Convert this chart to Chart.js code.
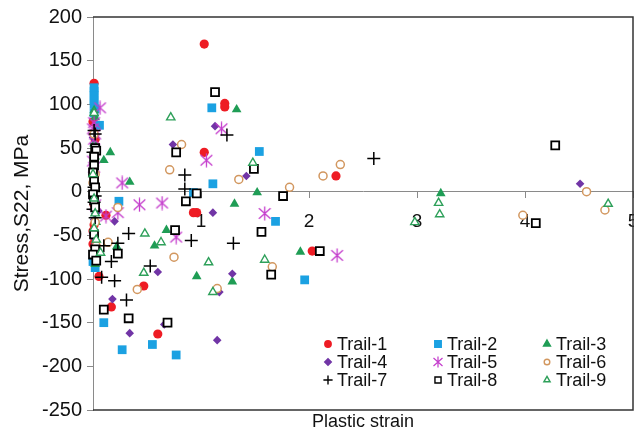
<!DOCTYPE html>
<html>
<head>
<meta charset="utf-8">
<script src="https://cdn.jsdelivr.net/npm/chart.js@4/dist/chart.umd.min.js"></script>
<style>
  html, body { margin: 0; padding: 0; background: #fff; }
  #contenedor { width: 634px; height: 432px; position: relative; }
</style>
</head>
<body>
<div id="contenedor"><canvas id="graficoTensiones"></canvas></div>
<script>
// Datos de cada ensayo: pares [deformación plástica, tensión S22 en MPa]
const trail1 = [[1.03, 169], [1.22, 101], [1.22, 97], [1.03, 45], [2.25, 18], [2.03, -68], [0.96, -24], [0.93, -24],
  [0.47, -108], [0.60, -163], [0.17, -132], [0.055, -97], [0.12, -27],
  [0.01, 124], [0.0, 80], [0.02, 60], [0.01, -15], [0.01, -38], [0.0, -45], [0.01, -52], [0.0, -60], [0.02, -68], [0.01, -80]];
const trail2 = [[1.10, 96], [1.54, 46], [1.11, 9], [0.93, -1], [0.24, -11], [1.69, -34], [1.96, -101], [0.10, -150],
  [0.27, -181], [0.55, -175], [0.77, -187],
  [0.01, 119], [0.01, 115], [0.01, 110], [0.01, 105], [0.01, 100], [0.02, 95], [0.01, 90], [0.06, 76], [0.0, -80], [0.02, -87]];
const trail3 = [[1.33, 94], [0.16, 45], [0.34, 11], [1.52, -1], [1.31, -14], [0.68, -44], [0.57, -62], [0.96, -97],
  [1.29, -103], [1.92, -69], [3.22, -2], [0.10, 36], [0.22, -63],
  [0.01, 93], [0.02, 85], [0.01, 55], [0.02, 52], [0.03, 48], [0.01, 44], [0.02, 40], [0.01, -5], [0.02, -20], [0.03, -35], [0.02, -83]];
const trail4 = [[0.74, 54], [1.13, 75], [1.42, 18], [1.11, -24], [0.60, -92], [1.29, -94], [1.17, -115], [0.18, -123],
  [0.34, -162], [0.66, -152], [1.15, -170], [4.51, 9], [0.20, -34],
  [0.01, 70], [0.0, 62], [0.01, 40], [0.02, -25], [0.01, -32], [0.0, -48], [0.01, -53], [0.02, -60], [0.05, -22]];
const trail5 = [[0.065, 96], [1.19, 72], [1.05, 36], [0.27, 10], [0.43, -15], [0.64, -13], [1.59, -25], [0.77, -52],
  [2.26, -73], [0.23, -24], [0.12, -28],
  [0.01, 79], [0.0, 72], [0.02, 66], [0.01, 60], [0.0, 35], [0.01, 28], [0.02, -15]];
const trail6 = [[0.82, 54], [0.71, 25], [1.35, 14], [1.82, 5], [2.13, 18], [2.29, 31], [4.57, 0], [4.74, -21],
  [3.98, -27], [1.66, -86], [0.75, -75], [1.15, -111], [0.41, -112], [0.14, -58], [0.23, -18],
  [0.01, 66], [0.02, 20], [0.01, 15], [0.0, 10], [0.02, -35], [0.03, -62]];
const trail7 = [[1.24, 65], [0.85, 19], [0.85, 3], [2.60, 38], [1.30, -59], [0.91, -56], [0.33, -48], [0.23, -59],
  [0.10, -62], [0.17, -80], [0.53, -85], [0.08, -98], [0.20, -102], [0.31, -124],
  [0.01, 70], [0.02, 66], [0.0, 45], [0.01, 5], [0.02, -5], [0.01, -12], [0.0, -20], [0.02, -30]];
const trail8 = [[1.13, 114], [0.77, 45], [1.49, 26], [0.96, -2], [0.86, -11], [1.76, -5], [4.28, 53], [4.10, -36],
  [2.10, -68], [1.65, -95], [1.56, -46], [0.76, -44], [0.69, -150], [0.33, -145], [0.10, -135], [0.23, -71],
  [0.02, 50], [0.03, 47], [0.01, 40], [0.01, 30], [0.0, 22], [0.01, 12], [0.02, 5], [0.0, -3], [0.01, -10],
  [0.02, -18], [0.01, -49], [0.02, -66], [0.0, -72], [0.03, -79]];
const trail9 = [[0.72, 85], [1.48, 33], [3.20, -13], [3.21, -26], [4.77, -14], [2.98, -35], [1.59, -78], [1.07, -81],
  [0.48, -48], [0.63, -58], [0.47, -93], [1.11, -115], [0.07, -70],
  [0.01, 90], [0.0, 20], [0.01, -8], [0.02, -25], [0.01, -42], [0.03, -55]];

const nombresSeries = ['Trail-1', 'Trail-2', 'Trail-3', 'Trail-4', 'Trail-5', 'Trail-6', 'Trail-7', 'Trail-8', 'Trail-9'];
const ticksX = [1, 2, 3, 4, 5];
const ticksY = [-250, -200, -150, -100, -50, 0, 50, 100, 150, 200];

const fuente = "'Liberation Sans', Arial, sans-serif";

// Marcador tipo asterisco (aspa con trazo vertical)
function crearAsterisco(tam, color, grosor) {
  const c = document.createElement('canvas');
  c.width = tam;
  c.height = tam;
  const g = c.getContext('2d');
  g.strokeStyle = color;
  g.lineWidth = grosor;
  const m = tam / 2;
  const d = tam / 2 - 1;
  g.beginPath();
  g.moveTo(m, 0.5); g.lineTo(m, tam - 0.5);
  g.moveTo(m - d * 0.9, m - d * 0.8); g.lineTo(m + d * 0.9, m + d * 0.8);
  g.moveTo(m + d * 0.9, m - d * 0.8); g.lineTo(m - d * 0.9, m + d * 0.8);
  g.stroke();
  return c;
}

const asterisco = crearAsterisco(15, '#c43ccc', 1.3);
const asteriscoLeyenda = crearAsterisco(12, '#c43ccc', 1.2);

// Estilo de marcador de cada serie
const estilos = [
  { pointStyle: 'circle', pointRadius: 4.6, backgroundColor: '#ee1c24', borderColor: '#ee1c24', borderWidth: 0, leyenda: 3.2 },
  { pointStyle: 'rect', pointRadius: 6.2, backgroundColor: '#1ba1e2', borderColor: '#1ba1e2', borderWidth: 0, leyenda: 4.6 },
  { pointStyle: 'triangle', pointRadius: 5.6, backgroundColor: '#1f9d55', borderColor: '#1f9d55', borderWidth: 0, leyenda: 4 },
  { pointStyle: 'rectRot', pointRadius: 4.3, backgroundColor: '#7135a6', borderColor: '#7135a6', borderWidth: 0, leyenda: 3.3 },
  { pointStyle: asterisco, pointRadius: 7, backgroundColor: '#c43ccc', borderColor: '#c43ccc', borderWidth: 0, leyenda: asteriscoLeyenda },
  { pointStyle: 'circle', pointRadius: 4, backgroundColor: '#ffffff', borderColor: '#d2975f', borderWidth: 1.5, leyenda: 2.8 },
  { pointStyle: 'cross', pointRadius: 6.5, backgroundColor: '#000000', borderColor: '#000000', borderWidth: 1.5, leyenda: 4.6 },
  { pointStyle: 'rect', pointRadius: 5.6, backgroundColor: '#ffffff', borderColor: '#000000', borderWidth: 1.8, leyenda: 4.3 },
  { pointStyle: 'triangle', pointRadius: 4.8, backgroundColor: '#ffffff', borderColor: '#2ea05a', borderWidth: 1.4, leyenda: 3.6 }
];

const series = [trail1, trail2, trail3, trail4, trail5, trail6, trail7, trail8, trail9];

// Leyenda dentro del área de trazado, en tres columnas
const leyendaInterna = {
  id: 'leyendaInterna',
  afterDraw(chart) {
    const { ctx, chartArea } = chart;
    const columnas = [chartArea.right - 305, chartArea.right - 195, chartArea.right - 86];
    const filas = [chartArea.bottom - 66, chartArea.bottom - 48, chartArea.bottom - 30];
    ctx.save();
    ctx.font = '18px ' + fuente;
    ctx.textBaseline = 'middle';
    ctx.textAlign = 'left';
    nombresSeries.forEach((nombre, i) => {
      const x = columnas[i % 3];
      const y = filas[Math.floor(i / 3)];
      const est = estilos[i];
      if (typeof est.leyenda === 'object') {
        ctx.drawImage(est.leyenda, x - est.leyenda.width / 2, y - est.leyenda.height / 2);
      } else {
        ctx.fillStyle = est.backgroundColor;
        ctx.strokeStyle = est.borderColor;
        ctx.lineWidth = est.borderWidth ? Math.min(est.borderWidth, 1.4) : 0;
        Chart.helpers.drawPoint(ctx, { pointStyle: est.pointStyle, radius: est.leyenda, borderWidth: ctx.lineWidth, rotation: 0 }, x, y);
      }
      ctx.fillStyle = '#111';
      ctx.fillText(nombre, x + 9, y + 1);
    });
    ctx.restore();
  }
};

// Marco del área de trazado y títulos de los ejes
const marcoYTitulos = {
  id: 'marcoYTitulos',
  beforeDatasetsDraw(chart) {
    const { ctx, chartArea } = chart;
    ctx.save();
    ctx.strokeStyle = '#333333';
    ctx.lineWidth = 1.5;
    ctx.beginPath();
    ctx.moveTo(chartArea.left, chartArea.top);
    ctx.lineTo(chartArea.right, chartArea.top);
    ctx.lineTo(chartArea.right, chartArea.bottom);
    ctx.lineTo(chartArea.left, chartArea.bottom);
    ctx.stroke();
    ctx.restore();
  },
  afterDraw(chart) {
    const { ctx, chartArea } = chart;
    ctx.save();
    ctx.fillStyle = '#111';
    ctx.textAlign = 'center';
    ctx.textBaseline = 'middle';
    ctx.font = '18px ' + fuente;
    ctx.fillText('Plastic strain', (chartArea.left + chartArea.right) / 2, 422);
    ctx.font = '21px ' + fuente;
    ctx.translate(22, (chartArea.top + chartArea.bottom) / 2);
    ctx.rotate(-Math.PI / 2);
    ctx.fillText('Stress,S22, MPa', 0, 0);
    ctx.restore();
  }
};

// El eje X cruza en y = 0 y su último rótulo no debe reservar margen
function sinMargenes(escala) {
  escala.paddingLeft = 0;
  escala.paddingRight = 0;
}

document.addEventListener('DOMContentLoaded', function() {
  const ctx = document.getElementById('graficoTensiones').getContext('2d');

  const datasets = series.map((puntos, i) => {
    const est = estilos[i];
    return {
      label: nombresSeries[i],
      data: puntos.map(([x, y]) => ({ x, y })),
      pointStyle: est.pointStyle,
      pointRadius: est.pointRadius,
      pointBackgroundColor: est.backgroundColor,
      pointBorderColor: est.borderColor,
      pointBorderWidth: est.borderWidth,
      showLine: false,
      clip: false,
      order: 9 - i
    };
  });

  new Chart(ctx, {
    type: 'scatter',
    data: { datasets },
    options: {
      responsive: true,
      maintainAspectRatio: false,
      animation: false,
      events: [],
      layout: { autoPadding: false, padding: { top: 17, right: 1, bottom: 22, left: 0 } },
      plugins: {
        legend: { display: false },
        tooltip: { enabled: false }
      },
      scales: {
        x: {
          type: 'linear',
          position: { y: 0 },
          min: 0,
          max: 5,
          afterBuildTicks: s => { s.ticks = ticksX.map(v => ({ value: v })); },
          afterFit: sinMargenes,
          grid: { drawOnChartArea: false, drawTicks: true, tickLength: 6, color: '#8a8a8a' },
          border: { display: true, color: '#8a8a8a', width: 1 },
          ticks: { padding: 13, color: '#111', font: { family: fuente, size: 19 }, maxRotation: 0 }
        },
        y: {
          type: 'linear',
          min: -250,
          max: 200,
          afterBuildTicks: s => { s.ticks = ticksY.map(v => ({ value: v })); },
          afterFit: s => { s.width = 93; },
          grid: { drawOnChartArea: false, drawTicks: true, tickLength: 6, color: '#8a8a8a' },
          border: { display: true, color: '#8a8a8a', width: 1 },
          ticks: { padding: 5, color: '#111', font: { family: fuente, size: 20 } }
        }
      }
    },
    plugins: [marcoYTitulos, leyendaInterna]
  });
});
</script>
</body>
</html>
